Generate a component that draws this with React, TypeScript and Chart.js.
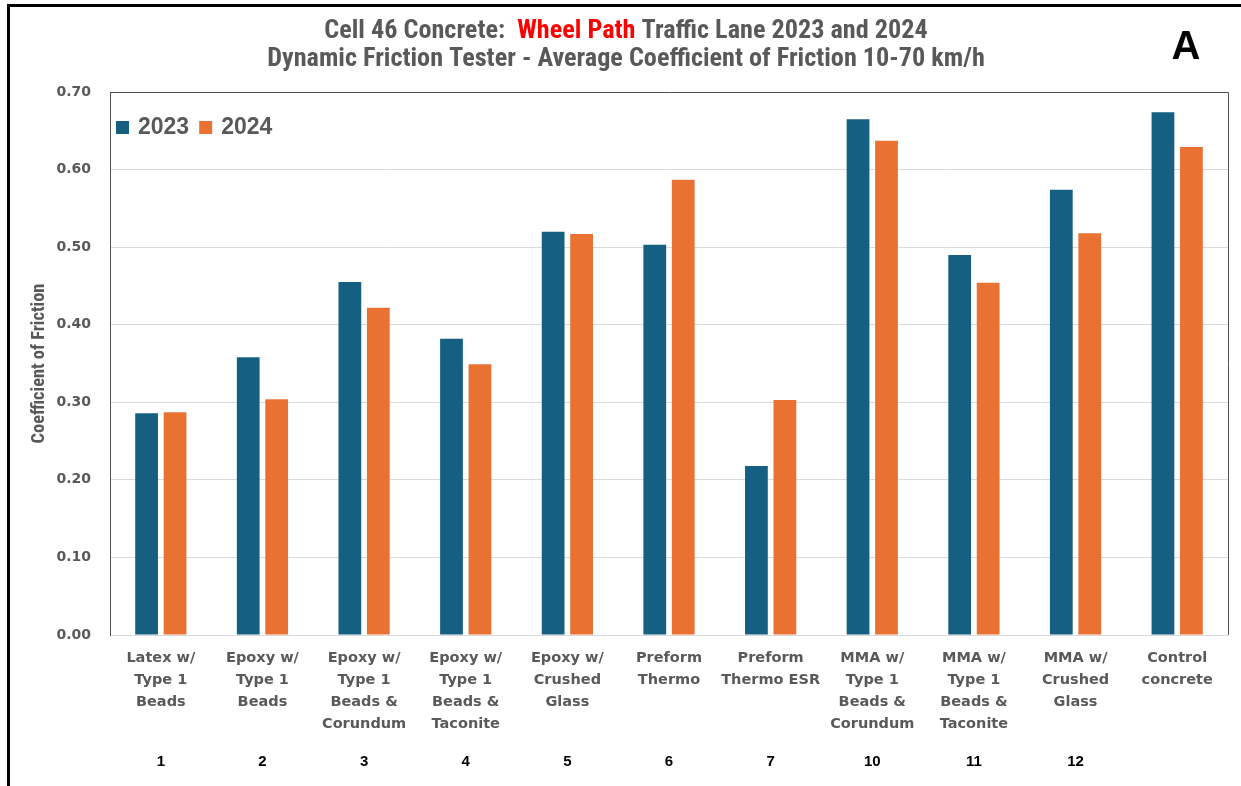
import React, { useEffect, useRef } from "react";
import { Chart, registerables } from "chart.js";

Chart.register(...registerables);

const categories: string[][] = [
  ["Latex w/", "Type 1", "Beads"],
  ["Epoxy w/", "Type 1", "Beads"],
  ["Epoxy w/", "Type 1", "Beads &", "Corundum"],
  ["Epoxy w/", "Type 1", "Beads &", "Taconite"],
  ["Epoxy w/", "Crushed", "Glass"],
  ["Preform", "Thermo"],
  ["Preform", "Thermo ESR"],
  ["MMA w/", "Type 1", "Beads &", "Corundum"],
  ["MMA w/", "Type 1", "Beads &", "Taconite"],
  ["MMA w/", "Crushed", "Glass"],
  ["Control", "concrete"],
];
const cellNumbers = ["1", "2", "3", "4", "5", "6", "7", "10", "11", "12", ""];
const values2023 = [0.286, 0.358, 0.455, 0.382, 0.52, 0.503, 0.218, 0.665, 0.49, 0.574, 0.674];
const values2024 = [0.287, 0.304, 0.422, 0.349, 0.517, 0.587, 0.303, 0.637, 0.454, 0.518, 0.629];
const seriesNames = ["2023", "2024"];
const seriesColors = ["#156082", "#E97132"];
const titleLine1: [string, string][] = [
  ["Cell 46 Concrete:  ", "#595959"],
  ["Wheel Path", "#FF0000"],
  [" Traffic Lane 2023 and 2024", "#595959"],
];
const titleLine2 = "Dynamic Friction Tester - Average Coefficient of Friction 10-70 km/h";
const yAxisTitle = "Coefficient of Friction";
const panelLetter = "A";

const NARROW = '"Liberation Sans Narrow", "Roboto Condensed", "Liberation Sans", sans-serif';
const ARIAL = '"Liberation Sans", Arial, sans-serif';
const DEJAVU = '"DejaVu Sans", sans-serif';
const GRAY = "#595959";

function fitSize(ctx: CanvasRenderingContext2D, text: string, width: number, weight: string, family: string) {
  ctx.font = `${weight} 20px ${family}`;
  const w = ctx.measureText(text).width;
  return (20 * width) / w;
}

const decorPlugin = {
  id: "decor",
  afterDraw(chart: any) {
    const ctx: CanvasRenderingContext2D = chart.ctx;
    const area = chart.chartArea;
    ctx.save();
    // outer frame
    ctx.fillStyle = "#000";
    ctx.fillRect(7, 4, 3, 800);
    ctx.fillRect(7, 4, 1300, 3);
    // plot border (top, left, right)
    ctx.strokeStyle = "#505050";
    ctx.lineWidth = 1;
    ctx.beginPath();
    ctx.moveTo(Math.round(area.left) + 0.5, Math.round(area.bottom));
    ctx.lineTo(Math.round(area.left) + 0.5, Math.round(area.top) + 0.5);
    ctx.lineTo(Math.round(area.right) + 0.5, Math.round(area.top) + 0.5);
    ctx.lineTo(Math.round(area.right) + 0.5, Math.round(area.bottom));
    ctx.stroke();

    // title
    const size = fitSize(ctx, titleLine2, 718, "bold", NARROW);
    ctx.font = `bold ${size}px ${NARROW}`;
    ctx.textBaseline = "middle";
    ctx.textAlign = "left";
    const full = titleLine1.map((p) => p[0]).join("");
    const w1 = ctx.measureText(full).width;
    let x = 626 - w1 / 2;
    for (const [t, c] of titleLine1) {
      ctx.fillStyle = c;
      ctx.fillText(t, x, 31);
      x += ctx.measureText(t).width;
    }
    ctx.fillStyle = GRAY;
    ctx.textAlign = "center";
    ctx.fillText(titleLine2, 626, 59);

    // panel letter
    ctx.fillStyle = "#000";
    ctx.font = `bold 40px ${ARIAL}`;
    ctx.textBaseline = "alphabetic";
    ctx.fillText(panelLetter, 1186, 59);

    // legend
    ctx.font = `bold 23px ${ARIAL}`;
    ctx.textBaseline = "middle";
    ctx.textAlign = "left";
    let lx = 116;
    seriesNames.forEach((name, i) => {
      ctx.fillStyle = seriesColors[i];
      ctx.fillRect(lx, 121, 13, 13);
      ctx.fillStyle = GRAY;
      ctx.fillText(name, lx + 22, 128);
      lx += 22 + ctx.measureText(name).width + 10;
    });

    // y axis title
    const ys = fitSize(ctx, yAxisTitle, 160, "bold", NARROW);
    ctx.save();
    ctx.translate(39, (area.top + area.bottom) / 2);
    ctx.rotate(-Math.PI / 2);
    ctx.font = `bold ${ys}px ${NARROW}`;
    ctx.fillStyle = GRAY;
    ctx.textAlign = "center";
    ctx.textBaseline = "middle";
    ctx.fillText(yAxisTitle, 0, 0);
    ctx.restore();

    // cell numbers
    const xs = chart.scales.x;
    ctx.font = `bold 15px ${ARIAL}`;
    ctx.fillStyle = "#000";
    ctx.textAlign = "center";
    ctx.textBaseline = "middle";
    cellNumbers.forEach((n, i) => {
      ctx.fillText(n, xs.getPixelForTick(i), 762);
    });
    ctx.restore();
  },
};

export default function App() {
  const ref = useRef<HTMLCanvasElement | null>(null);
  useEffect(() => {
    document.body.style.margin = "0";
    document.body.style.overflow = "hidden";
    const canvas = ref.current!;
    const chart = new Chart(canvas, {
      type: "bar",
      data: {
        labels: categories,
        datasets: [
          { label: seriesNames[0], data: values2023, backgroundColor: seriesColors[0] },
          { label: seriesNames[1], data: values2024, backgroundColor: seriesColors[1] },
        ],
      },
      options: {
        responsive: false,
        devicePixelRatio: 1,
        animation: false,
        layout: { padding: { top: 92, right: 13, left: 0, bottom: 0 } },
        datasets: { bar: { categoryPercentage: 0.56, barPercentage: 0.8 } },
        plugins: { legend: { display: false }, title: { display: false }, tooltip: { enabled: false } },
        scales: {
          x: {
            grid: { display: false, drawTicks: false },
            border: { display: false },
            ticks: {
              autoSkip: false,
              maxRotation: 0,
              minRotation: 0,
              padding: 12,
              color: GRAY,
              font: { family: DEJAVU, weight: "bold", size: 14.5, lineHeight: 22 / 14.5 },
            },
            afterFit: (s: any) => {
              s.height = 151;
            },
          },
          y: {
            min: 0,
            max: 0.7,
            grid: { color: "#d9d9d9", drawTicks: false },
            border: { color: "#505050" },
            ticks: {
              stepSize: 0.1,
              padding: 19,
              color: GRAY,
              font: { family: DEJAVU, weight: "bold", size: 14 },
              callback: (v: any) => Number(v).toFixed(2),
            },
            afterFit: (s: any) => {
              s.width = 110;
            },
          },
        },
      },
      plugins: [decorPlugin],
    } as any);
    return () => chart.destroy();
  }, []);
  return (
    <div style={{ width: 1241, height: 786, background: "#fff" }}>
      <canvas ref={ref} width={1241} height={786} style={{ display: "block" }} />
    </div>
  );
}
